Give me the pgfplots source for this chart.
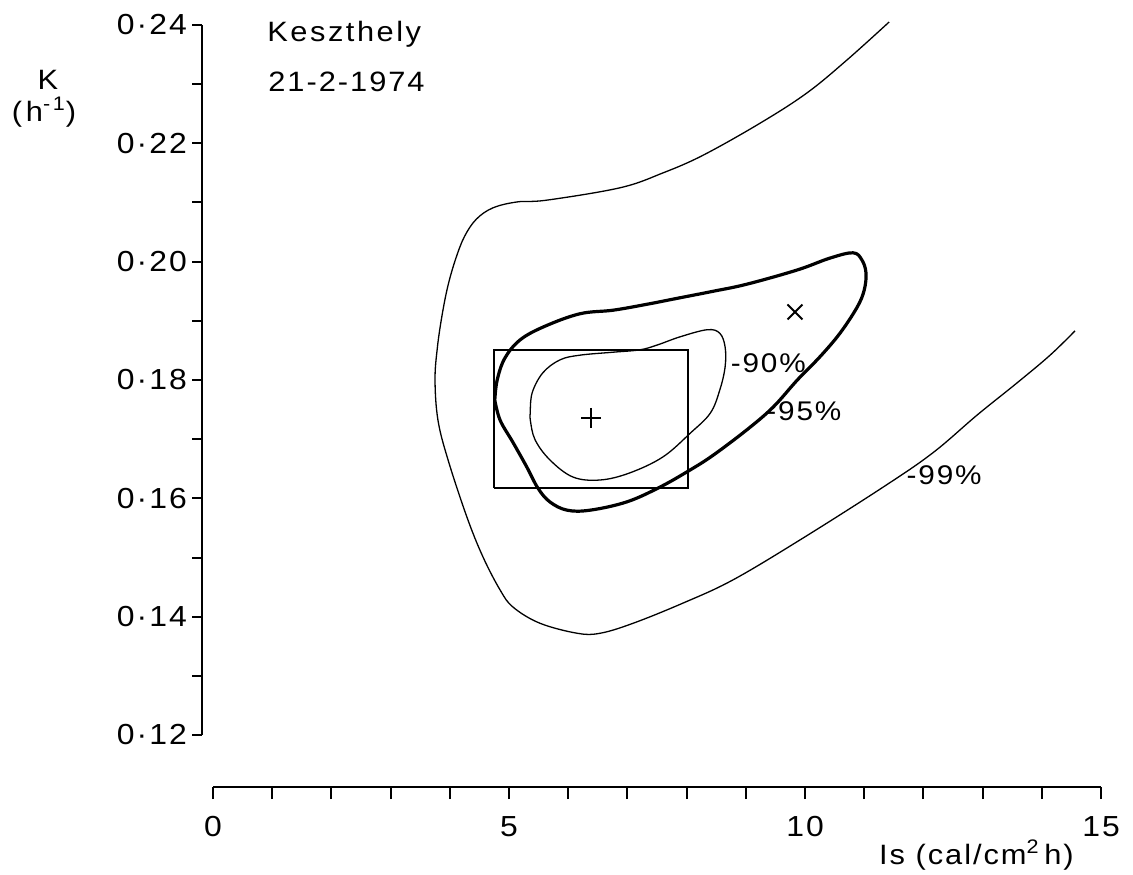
\documentclass[border=0pt]{standalone}
\usepackage{fontspec}
\setmainfont{Liberation Sans}[FakeStretch=1.1,LetterSpace=7]
\usepackage{pgfplots}
\pgfplotsset{compat=1.18}
\begin{document}
\begin{tikzpicture}[font=\fontsize{14}{16}\selectfont]
\useasboundingbox (0,0) rectangle (566.5pt,437pt);
\begin{axis}[
  at={(101pt,69.5pt)}, anchor=south west,
  scale only axis, width=449.5pt, height=355pt,
  xmin=-0.186, xmax=15, ymin=0.12, ymax=0.24,
  axis x line=none, axis y line=left,
  axis line style={-, line width=1pt},
  ytick={0.12,0.13,0.14,0.15,0.16,0.17,0.18,0.19,0.20,0.21,0.22,0.23,0.24},
  yticklabels={0·12,,0·14,,0·16,,0·18,,0·20,,0·22,,0·24},
  tick align=outside, major tick length=5pt,
  tick style={line width=1pt, black},
  yticklabel style={font=\fontsize{14.5}{16}\selectfont, xshift=1pt},
  clip=false,
]
% ~99% contour (open)
\addplot[black, line width=0.65pt, smooth, tension=0.6] coordinates {
(11.42,0.2405) (10.71,0.2341) (10.03,0.2285) (9.24,0.2234) (8.28,0.2180)
(7.60,0.2150) (6.88,0.2125) (5.64,0.2104) (5.14,0.2101) (4.73,0.2091)
(4.45,0.2072) (4.25,0.2043) (4.10,0.2005) (3.97,0.1960) (3.87,0.1910)
(3.79,0.1855) (3.75,0.1800) (3.80,0.1732) (3.97,0.1665) (4.29,0.1568)
(4.56,0.1501) (4.85,0.1445) (5.07,0.1416) (5.52,0.1389) (6.15,0.1372)
(6.54,0.1372) (7.10,0.1389) (7.94,0.1423) (8.78,0.1462) (9.92,0.1530)
(11.32,0.1619) (12.16,0.1677) (12.91,0.1741) (13.58,0.1795) (14.14,0.1842)
(14.56,0.1883)
};
% ~95% contour (closed)
\addplot[black, line width=1.6pt, smooth, tension=0.6] coordinates {
(4.76,0.1766) (4.80,0.1800) (4.93,0.1837) (5.19,0.1868) (5.61,0.1891)
(6.20,0.1912) (6.76,0.1918) (7.33,0.1928) (7.89,0.1939) (8.45,0.1950)
(9.02,0.1962) (9.87,0.1986) (10.42,0.2006) (10.81,0.2015) (10.96,0.2003)
(11.03,0.1981) (11.00,0.1952) (10.88,0.1923) (10.59,0.1879) (10.25,0.1839)
(9.87,0.1800) (9.46,0.1754) (9.02,0.1716) (8.45,0.1673) (8.06,0.1648)
(7.55,0.1619) (6.99,0.1594) (6.37,0.1580) (5.98,0.1580) (5.69,0.1594)
(5.49,0.1617) (5.30,0.1653) (5.07,0.1694) (4.85,0.1732) (4.76,0.1766)
};
% ~90% contour (closed)
\addplot[black, line width=0.65pt, smooth, tension=0.6] coordinates {
(5.36,0.1744) (5.39,0.1778) (5.57,0.1812) (5.86,0.1834) (6.20,0.1842)
(6.76,0.1847) (7.21,0.1851) (7.50,0.1859) (7.89,0.1873) (8.35,0.1885)
(8.56,0.1879) (8.65,0.1856) (8.65,0.1822) (8.56,0.1783) (8.40,0.1744)
(8.06,0.1710) (7.60,0.1670) (7.04,0.1643) (6.54,0.1631) (6.08,0.1636)
(5.69,0.1665) (5.44,0.1699) (5.36,0.1732) (5.36,0.1744)
};
% rectangle
\addplot[black, line width=1pt, sharp plot, line join=miter] coordinates {
(4.74,0.1617) (8.02,0.1617) (8.02,0.1850) (4.74,0.1850) (4.74,0.1617)
};
% best estimate (+) and other point (x)
\addplot[black, only marks, mark=+, mark size=5pt, mark options={line width=0.9pt}] coordinates {(6.39,0.1736)};
\addplot[black, only marks, mark=x, mark size=5.3pt, mark options={line width=1pt}] coordinates {(9.83,0.1915)};
\node[font=\fontsize{13.5}{15}\selectfont] at (axis cs:9.38,0.1829) {-90\%};
\node[font=\fontsize{13.5}{15}\selectfont] at (axis cs:9.98,0.1748) {-95\%};
\node[font=\fontsize{13.5}{15}\selectfont] at (axis cs:12.35,0.1639) {-99\%};
\end{axis}
\begin{axis}[
  at={(106.5pt,43.5pt)}, anchor=south west,
  scale only axis, width=444pt, height=10pt,
  xmin=0, xmax=15, ymin=0, ymax=1,
  axis y line=none, axis x line=bottom,
  axis line style={-, line width=1pt},
  xtick={0,...,15},
  xticklabels={0,,,,,5,,,,,10,,,,,15},
  tick align=outside, major tick length=6pt,
  tick style={line width=1pt, black},
  xticklabel style={yshift=-5pt, font=\fontsize{14.5}{16}\selectfont},
]
\addplot[draw=none] coordinates {(0,0.5)};
\end{axis}
\node at (24pt,397pt) {K};
\node at (22pt,381pt) {\addfontfeature{LetterSpace=14}(h\textsuperscript{-1})};
\node[anchor=base west, inner sep=0pt] at (133.5pt,416pt) {\addfontfeature{LetterSpace=9}Keszthely};
\node[anchor=base west, inner sep=0pt] at (134pt,391pt) {21\kern1pt-\kern1pt2\kern1pt-\kern1pt1974};
\node[anchor=base east, inner sep=0pt] at (537pt,5pt) {Is (cal/cm\textsuperscript{2}\,h)};
\end{tikzpicture}
\end{document}
